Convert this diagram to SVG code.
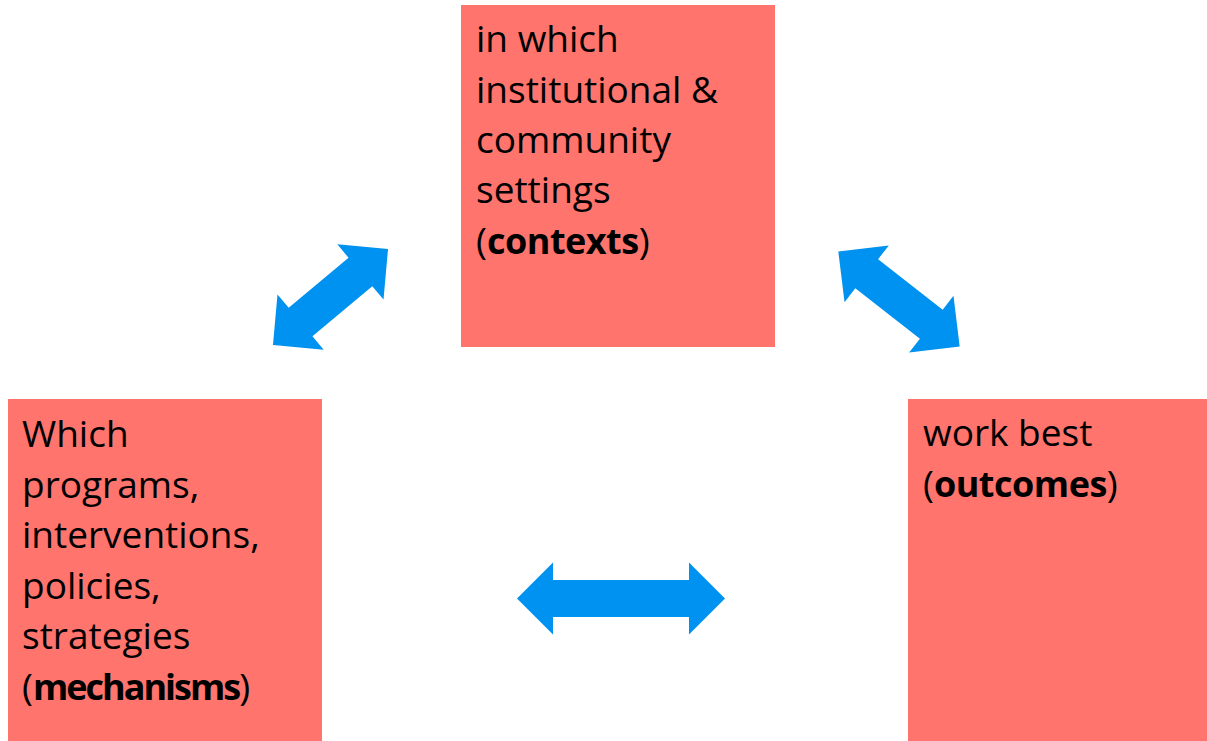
<svg xmlns="http://www.w3.org/2000/svg" width="1207" height="741" viewBox="0 0 1207 741">
<style>
.box{fill:#FF746C;}
.t{font-family:"Open Sans","Noto Sans",sans-serif;font-size:37px;fill:#000;}
.b{font-weight:bold;font-size:36px;letter-spacing:-0.5px;}
.m{letter-spacing:-2px;}
.arrow{fill:#0092F0;}
</style>
<defs>
<path id="a75" d="M-75,0 L-39,-36 L-39,-18.5 L39,-18.5 L39,-36 L75,0 L39,36 L39,18.5 L-39,18.5 L-39,36 Z"/>
<path id="a77" d="M-77,0 L-41,-36 L-41,-18.5 L41,-18.5 L41,-36 L77,0 L41,36 L41,18.5 L-41,18.5 L-41,36 Z"/>
<path id="a104" d="M-104,0 L-68,-36 L-68,-18.5 L68,-18.5 L68,-36 L104,0 L68,36 L68,18.5 L-68,18.5 L-68,36 Z"/>
</defs>
<rect width="1207" height="741" fill="#fff"/>
<g id="contexts">
<rect class="box" x="461" y="5" width="314" height="342"/>
<text class="t" x="476" y="52">in which</text>
<text class="t" x="476" y="102.5">institutional &amp;</text>
<text class="t" x="476" y="153">community</text>
<text class="t" x="476" y="203">settings</text>
<text class="t" x="476" y="253.5">(<tspan class="b">contexts</tspan>)</text>
</g>
<g id="mechanisms">
<rect class="box" x="8" y="399" width="314" height="345"/>
<text class="t" x="22" y="447">Which</text>
<text class="t" x="22" y="497.5">programs,</text>
<text class="t" x="22" y="548">interventions,</text>
<text class="t" x="22" y="598.5">policies,</text>
<text class="t" x="22" y="649">strategies</text>
<text class="t" x="22" y="699.5">(<tspan class="b m">mechanisms</tspan>)</text>
</g>
<g id="outcomes">
<rect class="box" x="908" y="399" width="302" height="345"/>
<text class="t" x="923" y="445.5">work best</text>
<text class="t" x="923" y="496.5">(<tspan class="b">outcomes</tspan>)</text>
</g>
<g id="connectors">
<use href="#a75" class="arrow" transform="translate(330.5,297) rotate(-39.9)"/>
<use href="#a77" class="arrow" transform="translate(899,299) rotate(38)"/>
<use href="#a104" class="arrow" transform="translate(621,598.5)"/>
</g>
</svg>
